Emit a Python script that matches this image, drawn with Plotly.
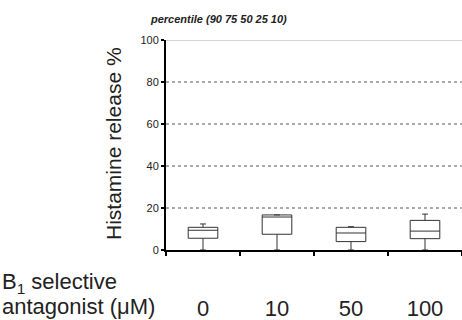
import plotly.graph_objects as go

categories = ["0", "10", "50", "100"]
p10 = [0, 0, 0, 0]
p25 = [5.6, 7.5, 4.0, 5.4]
p50 = [9.4, 15.7, 8.1, 9.0]
p75 = [10.8, 16.7, 10.8, 14.1]
p90 = [12.4, 16.7, 11.1, 17.1]
y_ticks = [0, 20, 40, 60, 80, 100]
grid_vals = [20, 40, 60, 80]

FONT = "Liberation Sans, Arial, sans-serif"
L, T, W, H = 166, 40, 296, 210


def px(xp):
    return (xp - L) / W


def py(yp):
    return (T + H - yp) / H


fig = go.Figure()
fig.add_trace(go.Box(
    x=categories, q1=p25, median=p50, q3=p75,
    lowerfence=p10, upperfence=p90,
    width=0.4, whiskerwidth=0.2,
    fillcolor="rgba(255,255,255,0)",
    line=dict(color="#333333", width=1),
    showlegend=False, hoverinfo="skip",
))

for g in grid_vals:
    fig.add_shape(type="line", xref="paper", x0=0, x1=1, yref="y", y0=g, y1=g,
                  line=dict(color="#555555", width=1, dash="dot"), layer="below")
fig.add_shape(type="line", xref="paper", x0=0, x1=1, yref="y", y0=100, y1=100,
              line=dict(color="#aaaaaa", width=1), layer="below")

fig.update_layout(
    width=462, height=320,
    margin=dict(l=L, r=462 - L - W, t=T, b=320 - T - H, autoexpand=False),
    paper_bgcolor="white", plot_bgcolor="white",
    font=dict(family=FONT, color="#222222"),
    xaxis=dict(
        type="category", range=[-0.5, 3.5], tickson="boundaries",
        showline=True, linecolor="black", linewidth=2,
        ticks="outside", ticklen=4, tickwidth=1.5, tickcolor="black",
        tickfont=dict(size=22, family=FONT, color="#222222"),
        ticklabelstandoff=38,
        showgrid=False, zeroline=False,
    ),
    yaxis=dict(
        range=[0, 100], tickvals=y_ticks,
        showline=True, linecolor="black", linewidth=2,
        ticks="outside", ticklen=3, tickwidth=2, tickcolor="black",
        tickfont=dict(size=11, family=FONT, color="#222222"),
        showgrid=False, zeroline=False,
    ),
)

fig.add_annotation(text="<i><b>percentile (90 75 50 25 10)</b></i>",
                   xref="paper", yref="paper", x=px(218), y=py(19), showarrow=False,
                   font=dict(size=11, family=FONT, color="#222222"),
                   xanchor="center", yanchor="middle")
fig.add_annotation(text="Histamine release %", xref="paper", yref="paper",
                   x=px(113), y=py(144), textangle=-90,
                   showarrow=False, font=dict(size=21, family=FONT, color="#222222"),
                   xanchor="center", yanchor="middle")
fig.add_annotation(text="B<sub>1</sub> selective", xref="paper", yref="paper",
                   x=px(0), y=py(283), showarrow=False,
                   font=dict(size=22, family=FONT, color="#222222"),
                   xanchor="left", yanchor="middle")
fig.add_annotation(text="antagonist (μM)", xref="paper", yref="paper",
                   x=px(0), y=py(306), showarrow=False,
                   font=dict(size=22, family=FONT, color="#222222"),
                   xanchor="left", yanchor="middle")

fig.write_html("out.html", config={"displayModeBar": False},
               post_script="document.body.style.margin='0';document.body.style.padding='0';")
